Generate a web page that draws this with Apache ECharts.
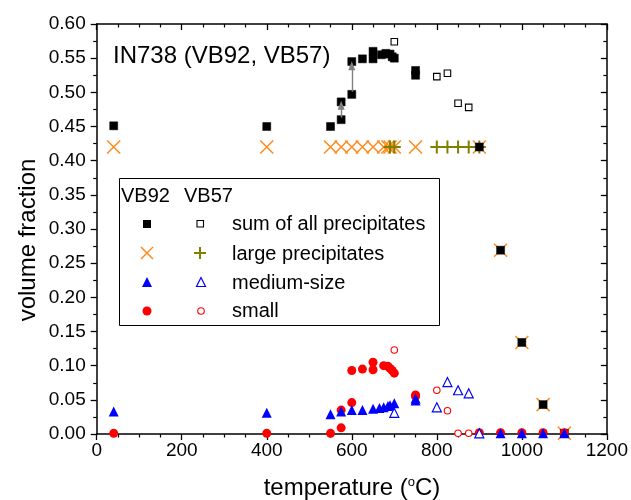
<!DOCTYPE html>
<html>
<head>
<meta charset="utf-8">
<script src="https://cdn.jsdelivr.net/npm/echarts@6/dist/echarts.min.js"></script>
<style>html,body{margin:0;padding:0;background:#fff;}#c{width:631px;height:500px;}</style>
</head>
<body>
<div id="c"></div>
<script>
// ---------- data ----------
var xTicks = [0, 200, 400, 600, 800, 1000, 1200];
var yTicks = [0.00, 0.05, 0.10, 0.15, 0.20, 0.25, 0.30, 0.35, 0.40, 0.45, 0.50, 0.55, 0.60];

// VB92 - sum of all precipitates (filled squares)
var sumVB92_T = [40, 400, 550, 575, 575, 600, 600, 625, 650, 650, 670, 680, 690, 695, 700, 750, 750, 900, 950, 1000, 1050, 1100];
var sumVB92_V = [0.451, 0.450, 0.450, 0.460, 0.486, 0.497, 0.545, 0.549, 0.549, 0.560, 0.555, 0.557, 0.556, 0.552, 0.550, 0.532, 0.525, 0.420, 0.269, 0.134, 0.043, 0.001];
// VB57 - sum of all precipitates (open squares)
var sumVB57_T = [700, 800, 825, 850, 875];
var sumVB57_V = [0.574, 0.523, 0.528, 0.484, 0.478];

// large precipitates
var largeVB92_T = [40, 400, 550, 575, 600, 625, 650, 675, 685, 690, 700, 750, 900, 950, 1000, 1050, 1100];
var largeVB92_V = [0.42, 0.42, 0.42, 0.42, 0.42, 0.42, 0.42, 0.42, 0.42, 0.42, 0.42, 0.42, 0.42, 0.269, 0.134, 0.043, 0.001];
var largeVB57_T = [690, 700, 800, 825, 850, 875, 900];
var largeVB57_V = [0.42, 0.42, 0.42, 0.42, 0.42, 0.42, 0.42];

// medium-size
var mediumVB92_T = [40, 400, 550, 575, 600, 625, 650, 665, 675, 685, 690, 700, 750, 750, 950, 1000, 1050, 1100];
var mediumVB92_V = [0.033, 0.031, 0.029, 0.033, 0.035, 0.035, 0.037, 0.038, 0.039, 0.041, 0.042, 0.045, 0.052, 0.049, 0.001, 0.001, 0.001, 0.001];
var mediumVB57_T = [700, 800, 825, 850, 875, 900];
var mediumVB57_V = [0.031, 0.039, 0.076, 0.064, 0.0595, 0.001];

// small
var smallVB92_T = [40, 400, 550, 575, 575, 600, 600, 625, 650, 650, 675, 685, 690, 695, 700, 750, 750, 900, 950, 1000, 1050, 1100];
var smallVB92_V = [0.001, 0.001, 0.001, 0.009, 0.035, 0.093, 0.046, 0.095, 0.105, 0.094, 0.100, 0.099, 0.096, 0.093, 0.089, 0.057, 0.055, 0.002, 0.002, 0.002, 0.002, 0.002];
var smallVB57_T = [700, 800, 825, 850, 875];
var smallVB57_V = [0.123, 0.064, 0.034, 0.001, 0.001];

// grey arrows (from -> to)
var arrowT = [575, 600];
var arrowFrom = [0.463, 0.501];
var arrowTo = [0.481, 0.539];

function pairs(t, v) { return t.map(function (x, i) { return [x, v[i]]; }); }

var FONT = 'Liberation Sans, Arial, sans-serif';
var ORANGE = '#ff8a1c', OLIVE = '#7f7f00', BLUE = '#0000ff', RED = '#ff0000';
var XPATH = 'path://M0,0L10,10M10,0L0,10';
var PPATH = 'path://M5,0L5,10M0,5L10,5';

var chart = echarts.init(document.getElementById('c'), null, {renderer: 'canvas'});

var axisCommon = {
  type: 'value', min: 0, max: 1200, interval: 200,
  axisLine: {show: true, onZero: false, lineStyle: {color: '#000', width: 1.5}},
  splitLine: {show: false}
};

var arrowLines = arrowT.map(function (t, i) {
  return [{coord: [t, arrowFrom[i]]}, {coord: [t, arrowTo[i]]}];
});

var option = {
  animation: false,
  backgroundColor: '#fff',
  grid: {left: 96.7, right: 23.3, top: 24, bottom: 66},
  xAxis: [
    Object.assign({}, axisCommon, {
      position: 'bottom',
      axisTick: {show: true, inside: false, length: 6, lineStyle: {color: '#000', width: 1.3}},
      minorTick: {show: true, splitNumber: 4, length: 3.5, lineStyle: {color: '#000', width: 1.2}},
      axisLabel: {color: '#000', fontSize: 19, fontFamily: FONT, margin: 7,
        formatter: function (v) { return xTicks.indexOf(v) >= 0 ? String(v) : ''; }}
    }),
    Object.assign({}, axisCommon, {
      position: 'top',
      axisTick: {show: true, inside: true, length: 6, lineStyle: {color: '#000', width: 1.3}},
      minorTick: {show: true, splitNumber: 4, length: 3.5, lineStyle: {color: '#000', width: 1.2}},
      axisLabel: {show: false}
    })
  ],
  yAxis: [
    {
      type: 'value', min: 0, max: 0.6, interval: 0.05, position: 'left',
      axisLine: {show: true, onZero: false, lineStyle: {color: '#000', width: 1.5}},
      splitLine: {show: false},
      axisTick: {show: true, inside: false, length: 6, lineStyle: {color: '#000', width: 1.3}},
      minorTick: {show: true, splitNumber: 2, length: 3.5, lineStyle: {color: '#000', width: 1.2}},
      axisLabel: {color: '#000', fontSize: 19, fontFamily: FONT, margin: 11,
        formatter: function (v) {
          var s = v.toFixed(2);
          return yTicks.map(function (y) { return y.toFixed(2); }).indexOf(s) >= 0 ? s : '';
        }}
    },
    {
      type: 'value', min: 0, max: 0.6, interval: 0.05, position: 'right',
      axisLine: {show: true, onZero: false, lineStyle: {color: '#000', width: 1.5}},
      splitLine: {show: false},
      axisTick: {show: true, inside: true, length: 6, lineStyle: {color: '#000', width: 1.3}},
      minorTick: {show: true, splitNumber: 2, length: 3.5, lineStyle: {color: '#000', width: 1.2}},
      axisLabel: {show: false}
    }
  ],
  series: [
    {
      name: 'arrows', type: 'scatter', data: [], silent: true,
      markLine: {
        silent: true, animation: false,
        symbol: ['none', 'triangle'], symbolSize: [7, 9],
        label: {show: false},
        lineStyle: {color: '#808080', width: 1.4, type: 'solid', opacity: 1},
        data: arrowLines
      }
    },
    {
      name: 'large VB92', type: 'scatter', data: pairs(largeVB92_T, largeVB92_V),
      symbol: XPATH, symbolSize: 13,
      itemStyle: {color: 'none', borderColor: ORANGE, borderWidth: 1.5, opacity: 1}
    },
    {
      name: 'large VB57', type: 'scatter', data: pairs(largeVB57_T, largeVB57_V),
      symbol: PPATH, symbolSize: 13,
      itemStyle: {color: 'none', borderColor: OLIVE, borderWidth: 2, opacity: 1}
    },
    {
      name: 'sum VB92', type: 'scatter', data: pairs(sumVB92_T, sumVB92_V),
      symbol: 'rect', symbolSize: 8,
      itemStyle: {color: '#000', borderColor: '#000', borderWidth: 0.5, opacity: 1}
    },
    {
      name: 'sum VB57', type: 'scatter', data: pairs(sumVB57_T, sumVB57_V),
      symbol: 'rect', symbolSize: 6.5,
      itemStyle: {color: '#fff', borderColor: '#000', borderWidth: 1.1, opacity: 1}
    },
    {
      name: 'small VB92', type: 'scatter', data: pairs(smallVB92_T, smallVB92_V),
      symbol: 'circle', symbolSize: 9,
      itemStyle: {color: RED, opacity: 1}
    },
    {
      name: 'small VB57', type: 'scatter', data: pairs(smallVB57_T, smallVB57_V),
      symbol: 'circle', symbolSize: 6.5,
      itemStyle: {color: '#fff', borderColor: RED, borderWidth: 1.1, opacity: 1}
    },
    {
      name: 'medium VB92', type: 'scatter', data: pairs(mediumVB92_T, mediumVB92_V),
      symbol: 'triangle', symbolSize: 10,
      itemStyle: {color: BLUE, opacity: 1}
    },
    {
      name: 'medium VB57', type: 'scatter', data: pairs(mediumVB57_T, mediumVB57_V),
      symbol: 'triangle', symbolSize: 9,
      itemStyle: {color: '#fff', borderColor: BLUE, borderWidth: 1.2, opacity: 1}
    }
  ],
  graphic: [
    // title
    {type: 'text', left: 113, top: 44, z: 10,
      style: {text: 'IN738 (VB92, VB57)', font: '24px ' + FONT, fill: '#000'}},
    // axis titles
    {type: 'text', x: 28, y: 240, rotation: Math.PI / 2, z: 10,
      style: {text: 'volume fraction', font: '24px ' + FONT, fill: '#000', align: 'center', verticalAlign: 'middle'}},
    {type: 'text', x: 352, y: 488, z: 10,
      style: {
        text: '{a|temperature (}{s|o}{a|C)}', align: 'center', verticalAlign: 'middle',
        rich: {
          a: {fontSize: 24, fontFamily: FONT, color: '#000'},
          s: {fontSize: 13, fontFamily: FONT, color: '#000', padding: [0, 0, 12, 0]}
        }
      }},
    // legend box
    {type: 'rect', z: 5, shape: {x: 119.5, y: 178.5, width: 320, height: 147},
      style: {fill: '#fff', stroke: '#000', lineWidth: 1}},
    {type: 'text', x: 121, y: 196, z: 10, style: {text: 'VB92', font: '20px ' + FONT, fill: '#000', verticalAlign: 'middle'}},
    {type: 'text', x: 184, y: 196, z: 10, style: {text: 'VB57', font: '20px ' + FONT, fill: '#000', verticalAlign: 'middle'}},
    {type: 'text', x: 232, y: 224, z: 10, style: {text: 'sum of all precipitates', font: '20px ' + FONT, fill: '#000', verticalAlign: 'middle'}},
    {type: 'text', x: 232, y: 254, z: 10, style: {text: 'large precipitates', font: '20px ' + FONT, fill: '#000', verticalAlign: 'middle'}},
    {type: 'text', x: 232, y: 283, z: 10, style: {text: 'medium-size', font: '20px ' + FONT, fill: '#000', verticalAlign: 'middle'}},
    {type: 'text', x: 232, y: 311, z: 10, style: {text: 'small', font: '20px ' + FONT, fill: '#000', verticalAlign: 'middle'}},
    // legend symbols
    {type: 'rect', z: 10, shape: {x: 143, y: 220, width: 8, height: 8}, style: {fill: '#000'}},
    {type: 'rect', z: 10, shape: {x: 197, y: 220.5, width: 6.5, height: 6.5}, style: {fill: '#fff', stroke: '#000', lineWidth: 1.1}},
    {type: 'polyline', z: 10, shape: {points: [[141, 247], [153, 259]]}, style: {stroke: ORANGE, lineWidth: 1.5}},
    {type: 'polyline', z: 10, shape: {points: [[153, 247], [141, 259]]}, style: {stroke: ORANGE, lineWidth: 1.5}},
    {type: 'polyline', z: 10, shape: {points: [[200, 247], [200, 259]]}, style: {stroke: OLIVE, lineWidth: 2}},
    {type: 'polyline', z: 10, shape: {points: [[194, 253], [206, 253]]}, style: {stroke: OLIVE, lineWidth: 2}},
    {type: 'polygon', z: 10, shape: {points: [[147, 277], [152, 287], [142, 287]]}, style: {fill: BLUE}},
    {type: 'polygon', z: 10, shape: {points: [[201, 277.5], [205.5, 286.5], [196.5, 286.5]]}, style: {fill: '#fff', stroke: BLUE, lineWidth: 1.2}},
    {type: 'circle', z: 10, shape: {cx: 147, cy: 311, r: 4.5}, style: {fill: RED}},
    {type: 'circle', z: 10, shape: {cx: 201, cy: 311, r: 3.3}, style: {fill: '#fff', stroke: RED, lineWidth: 1.1}}
  ]
};
chart.setOption(option);
</script>
</body>
</html>
